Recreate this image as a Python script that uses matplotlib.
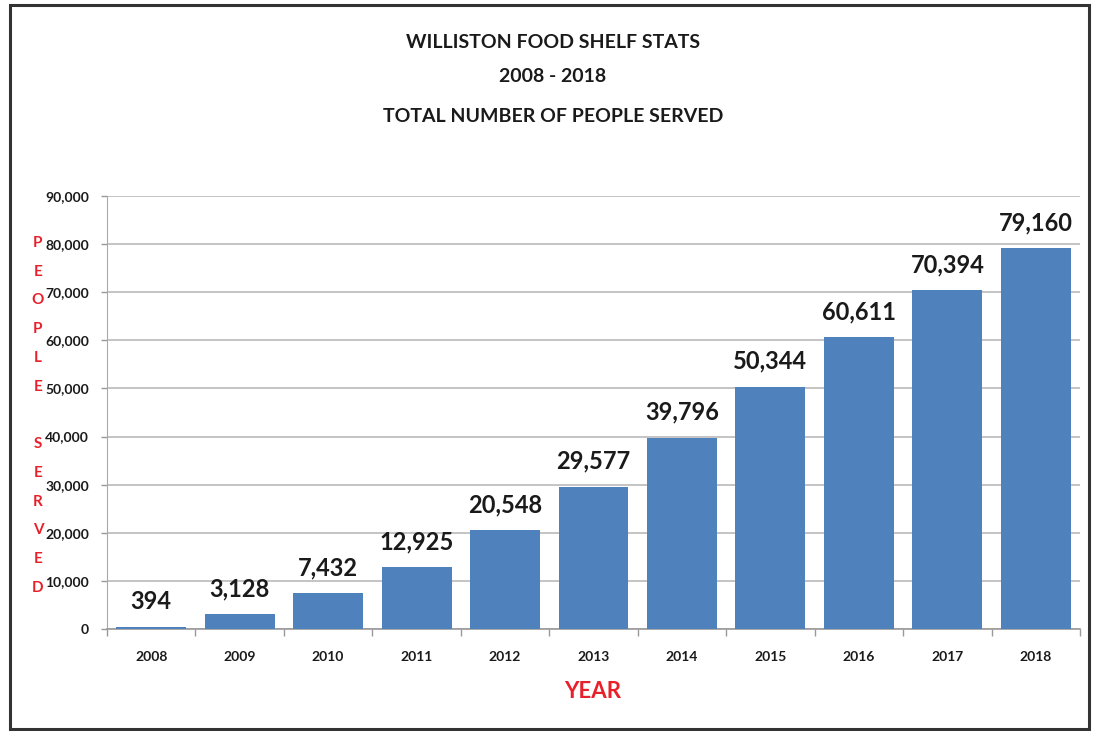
import matplotlib
matplotlib.use("Agg")
import matplotlib.pyplot as plt
from matplotlib.patches import Rectangle

years = ["2008", "2009", "2010", "2011", "2012", "2013", "2014", "2015", "2016", "2017", "2018"]
people = [394, 3128, 7432, 12925, 20548, 29577, 39796, 50344, 60611, 70394, 79160]
yticks = [0, 10000, 20000, 30000, 40000, 50000, 60000, 70000, 80000, 90000]
title_lines = ["WILLISTON FOOD SHELF STATS", "2008 - 2018", "TOTAL NUMBER OF PEOPLE SERVED"]
ylabel_text = "PEOPLE SERVED"
xlabel_text = "YEAR"

FONT = ["Lato", "DejaVu Sans"]
plt.rcParams['font.family'] = FONT

BLUE = "#4F81BD"
RED = "#E8202A"
DARK = "#1a1a1a"

fig = plt.figure(figsize=(10.94, 7.31), dpi=100)
fig.patch.set_facecolor("white")

W, H = 1094, 731
fig.add_artist(Rectangle((10 / W, 2 / H), 1079 / W, 724 / H, transform=fig.transFigure,
                         fill=False, edgecolor="#333333", linewidth=2.2))

ax = fig.add_axes([107 / W, 1 - 629 / H, (1080 - 107) / W, (629 - 196) / H])
x = list(range(len(years)))
bars = ax.bar(x, people, width=0.79, color=BLUE, zorder=3)

ax.set_xlim(-0.5, len(years) - 0.5)
ax.set_ylim(0, 90000)
ax.set_yticks(yticks)
ax.set_yticklabels([f"{v:,}" for v in yticks], fontsize=10, fontweight="bold", color=DARK)
ax.set_xticks(x)
ax.set_xticklabels(years, fontsize=10, fontweight="bold", color=DARK)
ax.tick_params(axis="x", length=0, pad=16)
ax.set_xticks([i - 0.5 for i in range(len(years) + 1)], minor=True)
ax.tick_params(axis="x", which="minor", length=5, color="#999999", width=1)
ax.tick_params(axis="y", length=4, color="#999999", width=1, pad=9)

ax.grid(axis="y", color="#b4b4b4", linewidth=1.1, zorder=0)
for s in ["top", "right"]:
    ax.spines[s].set_visible(False)
ax.spines["left"].set_color("#aaaaaa")
ax.spines["bottom"].set_color("#999999")
ax.spines["bottom"].set_linewidth(1.2)

for b, v in zip(bars, people):
    ax.annotate(f"{v:,}", (b.get_x() + b.get_width() / 2, v), xytext=(0, 10),
                textcoords="offset points", ha="center", va="bottom",
                fontsize=17, fontweight="bold", color=DARK)

title_y = [42, 77, 116]
for t, yy in zip(title_lines, title_y):
    fig.text(553 / W, 1 - yy / H, t, ha="center", va="center", fontsize=14,
             fontweight="bold", color=DARK)

y0, step = 243, 28.75
for i, ch in enumerate(ylabel_text):
    if ch == " ":
        continue
    fig.text(38 / W, 1 - (y0 + i * step) / H, ch, ha="center", va="center",
             fontsize=11, fontweight="bold", color=RED)

fig.text(593 / W, 1 - 692 / H, xlabel_text, ha="center", va="center",
         fontsize=16, fontweight="bold", color=RED)

fig.savefig("out.png", dpi=100, facecolor="white")
